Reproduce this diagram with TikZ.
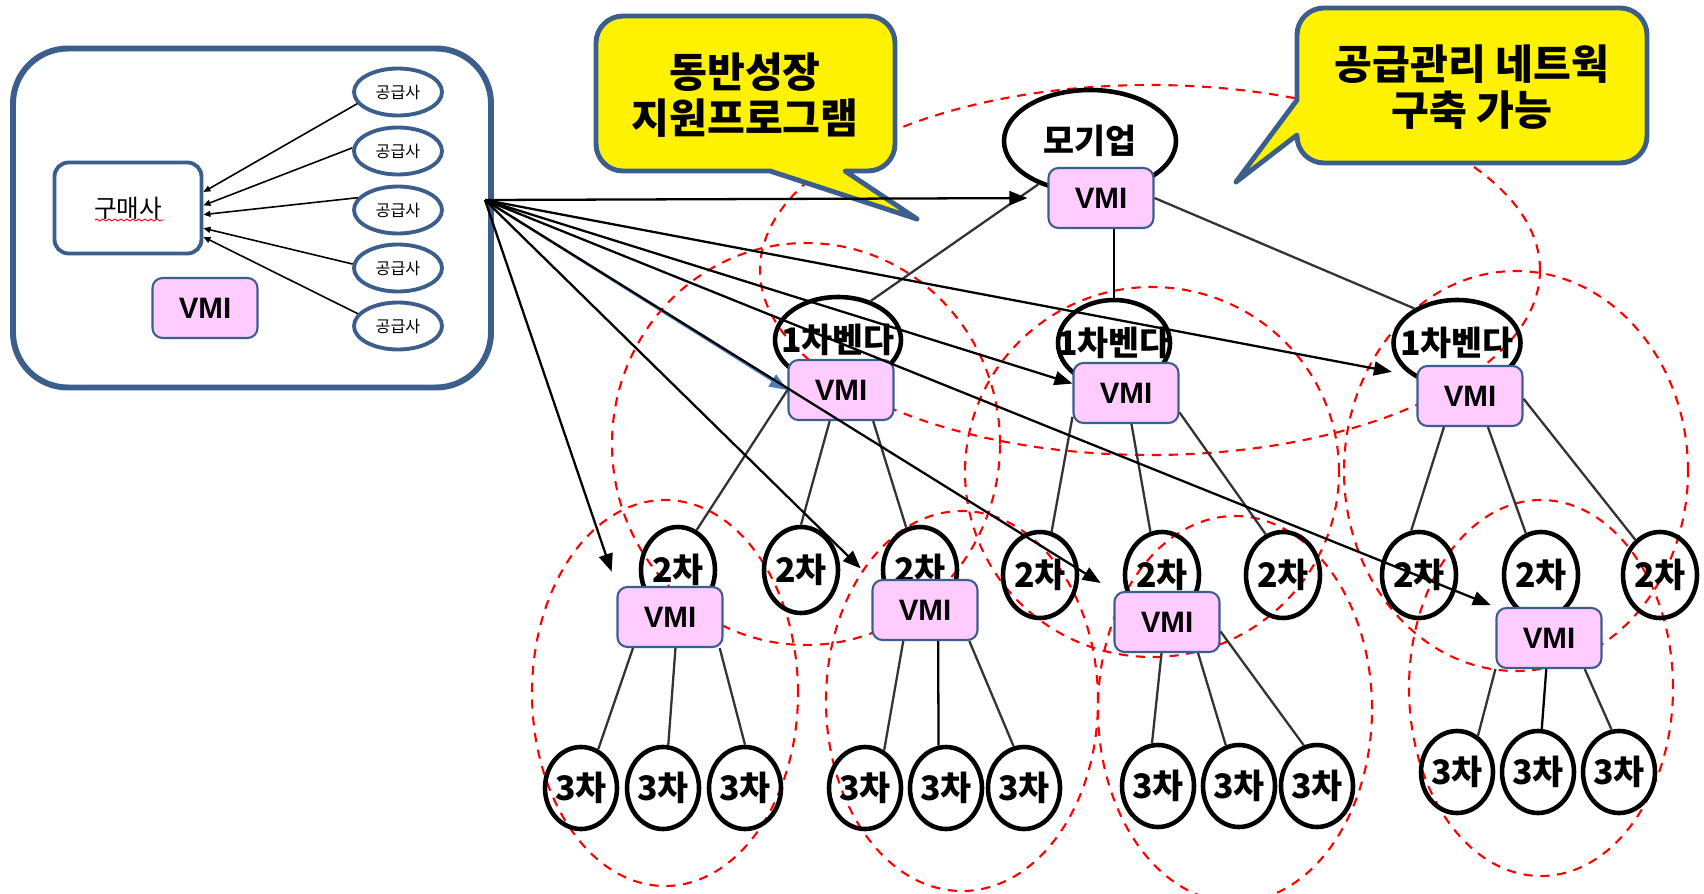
\documentclass[tikz,border=0pt]{standalone}
\usepackage{fontspec}
\usepackage{tikz}
\usetikzlibrary{shapes.geometric,arrows.meta,decorations.pathmorphing,calc}
\newfontfamily\krfont{Noto Sans CJK KR}
\newfontfamily\vmifont{Liberation Sans}
\definecolor{frameblue}{HTML}{3B5E8C}
\definecolor{vmipink}{HTML}{FFCCFF}
\definecolor{arrowblue}{HTML}{4A7EBB}

\begin{document}
\begin{tikzpicture}[x=0.1mm, y=-0.1mm,
  dashring/.style={red, line width=0.6pt, dash pattern=on 2.6pt off 2.2pt},
  speech/.style={draw=frameblue, fill=yellow, line width=1.4pt, line join=round},
  speechtext/.style={font=\krfont\bfseries\fontsize{11.7}{13.2}\selectfont, align=center},
  vmibox/.style={draw=frameblue, fill=vmipink, line width=0.6pt, rounded corners=1mm, minimum width=10.5mm, minimum height=6mm, inner sep=0pt, font=\vmifont\bfseries\fontsize{8.4}{9}\selectfont},
  supplier/.style={ellipse, draw=frameblue, line width=1.1pt, minimum width=8.8mm, minimum height=4.7mm, inner sep=0pt, font=\krfont\fontsize{4.6}{5}\selectfont},
  tierlabel/.style={font=\krfont\bfseries\fontsize{9.6}{10}\selectfont, inner sep=0pt},
  tierring/.style={ellipse, draw=black, line width=1.3pt, inner sep=0pt, minimum height=8.6mm},
  secondring/.style={tierring, minimum width=7.4mm, minimum height=8.6mm, label={[tierlabel]center:2차}},
  thirdring/.style={tierring, minimum width=7.2mm, minimum height=8.2mm, label={[tierlabel]center:3차}},
  tielink/.style={black!80, line width=0.65pt},
  fanarrow/.style={black, line width=0.65pt, -{Triangle[length=1.8mm,width=1.4mm]}},
  pullarrow/.style={black, line width=0.45pt, -{Triangle[length=0.7mm,width=0.6mm]}}]
  \useasboundingbox (0,0) rectangle (1704,894);

  \draw[dashring] (1150,270) ellipse [x radius=39mm, y radius=18.5mm];
  \draw[dashring] (806,444) ellipse [x radius=19.4mm, y radius=20.1mm];
  \draw[dashring] (1152,472) ellipse [x radius=18.7mm, y radius=18.5mm];
  \draw[dashring] (1516,471) ellipse [x radius=17.2mm, y radius=20mm];
  \draw[dashring] (665,693) ellipse [x radius=13.3mm, y radius=19.3mm];
  \draw[dashring] (962,701) ellipse [x radius=13.6mm, y radius=19mm];
  \draw[dashring] (1235,709) ellipse [x radius=13.7mm, y radius=19.3mm];
  \draw[dashring] (1541,688) ellipse [x radius=13.2mm, y radius=18.8mm];

  \draw[speech] (770,171) [rounded corners=2.7mm] -- (596,171) -- (596,16) -- (895,16) -- (895,171) [sharp corners] -- (845,171) -- (917,219) -- cycle;
  \node[speechtext] (call1) at (745,95) {동반성장\\지원프로그램};
  \draw[speech] (1297,135) [rounded corners=2.7mm] -- (1297,163) -- (1647,163) -- (1647,8) -- (1297,8) [sharp corners] -- (1297,100) -- (1236,182) -- cycle;
  \node[speechtext] (call2) at (1472,87) {공급관리 네트웍\\구축 가능};

  \node[draw=frameblue, line width=1.7pt, rounded corners=5.5mm, minimum width=47.8mm, minimum height=33.9mm] (buyerside) at (252,218) {};
  \node[draw=frameblue, line width=1.1pt, rounded corners=1.4mm, minimum width=14.7mm, minimum height=9.1mm, font=\krfont\fontsize{7}{8}\selectfont] (buyer) at (128,208) {구매사};
  \draw[red, line width=0.25pt, decorate, decoration={snake, amplitude=0.1mm, segment length=0.6mm}] ($(buyer.center)+(-33,12)$) -- ($(buyer.center)+(36,12)$);
  \node[vmibox] (vmi0) at (205,308) {VMI};
  \node[supplier] (s1) at (398,92) {공급사};
  \node[supplier] (s2) at (398,151) {공급사};
  \node[supplier] (s3) at (398,210) {공급사};
  \node[supplier] (s4) at (398,268) {공급사};
  \node[supplier] (s5) at (398,326) {공급사};
  \draw[pullarrow] (s1.196) -- (buyer.12);
  \draw[pullarrow] (s2.176) -- (buyer.2);
  \draw[pullarrow] (s3.163) -- (buyer.-5);
  \draw[pullarrow] (s4.175) -- (buyer.-15);
  \draw[pullarrow] (s5.163) -- (buyer.-21);

  \node[tierring, minimum width=17.2mm, minimum height=10.2mm, label={[tierlabel]center:모기업}] (parent) at (1090,141) {};
  \node[tierring, minimum width=12.6mm, label={[tierlabel]center:1차벤다}] (v1a) at (838,340) {};
  \node[tierring, minimum width=11.2mm, label={[tierlabel]center:1차벤다}] (v1b) at (1114,343) {};
  \node[tierring, minimum width=12.7mm, label={[tierlabel]center:1차벤다}] (v1c) at (1457,343) {};
  \node[vmibox] (vmitop) at (1101,198) {VMI};
  \node[vmibox] (vmia) at (841,390) {VMI};
  \node[vmibox] (vmib) at (1126,393) {VMI};
  \node[vmibox] (vmic) at (1470,396) {VMI};

  \node[secondring] (v2a1) at (678,570) {};
  \node[secondring] (v2a2) at (801,570) {};
  \node[secondring] (v2a3) at (920,570) {};
  \node[secondring] (v2b1) at (1040,575) {};
  \node[secondring] (v2b2) at (1162,575) {};
  \node[secondring] (v2b3) at (1283,575) {};
  \node[secondring] (v2c1) at (1419,575) {};
  \node[secondring] (v2c2) at (1541,575) {};
  \node[secondring] (v2c3) at (1660,575) {};
  \node[vmibox] (vmia1) at (670,617) {VMI};
  \node[vmibox] (vmia3) at (925,610) {VMI};
  \node[vmibox] (vmib2) at (1167,622) {VMI};
  \node[vmibox] (vmic2) at (1549,638) {VMI};

  \node[thirdring] (v3a11) at (581,788) {};
  \node[thirdring] (v3a12) at (663,788) {};
  \node[thirdring] (v3a13) at (745,788) {};
  \node[thirdring] (v3a31) at (865,788) {};
  \node[thirdring] (v3a32) at (946,788) {};
  \node[thirdring] (v3a33) at (1024,788) {};
  \node[thirdring] (v3b21) at (1158,786) {};
  \node[thirdring] (v3b22) at (1239,786) {};
  \node[thirdring] (v3b23) at (1317,786) {};
  \node[thirdring] (v3c21) at (1457,772) {};
  \node[thirdring] (v3c22) at (1538,772) {};
  \node[thirdring] (v3c23) at (1619,772) {};

  \draw[tielink] (parent.220) -- (v1a.50);
  \draw[tielink, black, line width=0.7pt] (vmitop.south -| v1b) -- (v1b.north);
  \draw[tielink] (vmitop.east) -- (v1c.141);
  \draw[tielink] (vmia.west) -- (v2a1.65);
  \draw[tielink] (vmia.-110) -- (v2a2.north);
  \draw[tielink] (vmia.-44) -- (v2a3.108);
  \draw[tielink] (vmib.204) -- (v2b1.75);
  \draw[tielink] (vmib.-80) -- (v2b2.105);
  \draw[tielink] (vmib.-20) -- (v2b3.113);
  \draw[tielink] (vmic.-130) -- (v2c1.100);
  \draw[tielink] (vmic.-60) -- (v2c2.110);
  \draw[tielink] (vmic.-3) -- (v2c3.125);
  \draw[tielink] (vmia1.-140) -- (v3a11.66);
  \draw[tielink] (vmia1.-80) -- (v3a12.83);
  \draw[tielink] (vmia1.-32) -- (v3a13.north);
  \draw[tielink] (vmia3.-125) -- (v3a31.63);
  \draw[tielink, black] (vmia3.-67) -- (v3a32.100);
  \draw[tielink] (vmia3.-35) -- (v3a33.104);
  \draw[tielink] (vmib2.-100) -- (v3b21.98);
  \draw[tielink] (vmib2.-45) -- (v3b22.108);
  \draw[tielink] (vmib2.-10) -- (v3b23.108);
  \draw[tielink] (vmic2.-150) -- (v3c21.60);
  \draw[tielink, black] (vmic2.-95) -- (v3c22.85);
  \draw[tielink] (vmic2.-41) -- (v3c23.100);

  \coordinate (hub) at (485,200);
  \draw[fanarrow, shorten >=2mm] (hub) -- (vmitop.west);
  \draw[fanarrow, arrowblue] (hub) -- (vmia.west);
  \draw[fanarrow] (hub) -- (vmib.170);
  \draw[fanarrow, shorten >=2.5mm] (hub) -- (vmic.160);
  \draw[fanarrow, shorten >=1.5mm] (hub) -- (vmia1.north west);
  \draw[fanarrow, shorten >=1.5mm] (hub) -- (vmia3.north west);
  \draw[fanarrow, shorten >=1.5mm] (hub) -- (vmib2.north west);
  \draw[fanarrow, shorten >=0.5mm] (hub) -- (vmic2.north west);
\end{tikzpicture}
\end{document}
